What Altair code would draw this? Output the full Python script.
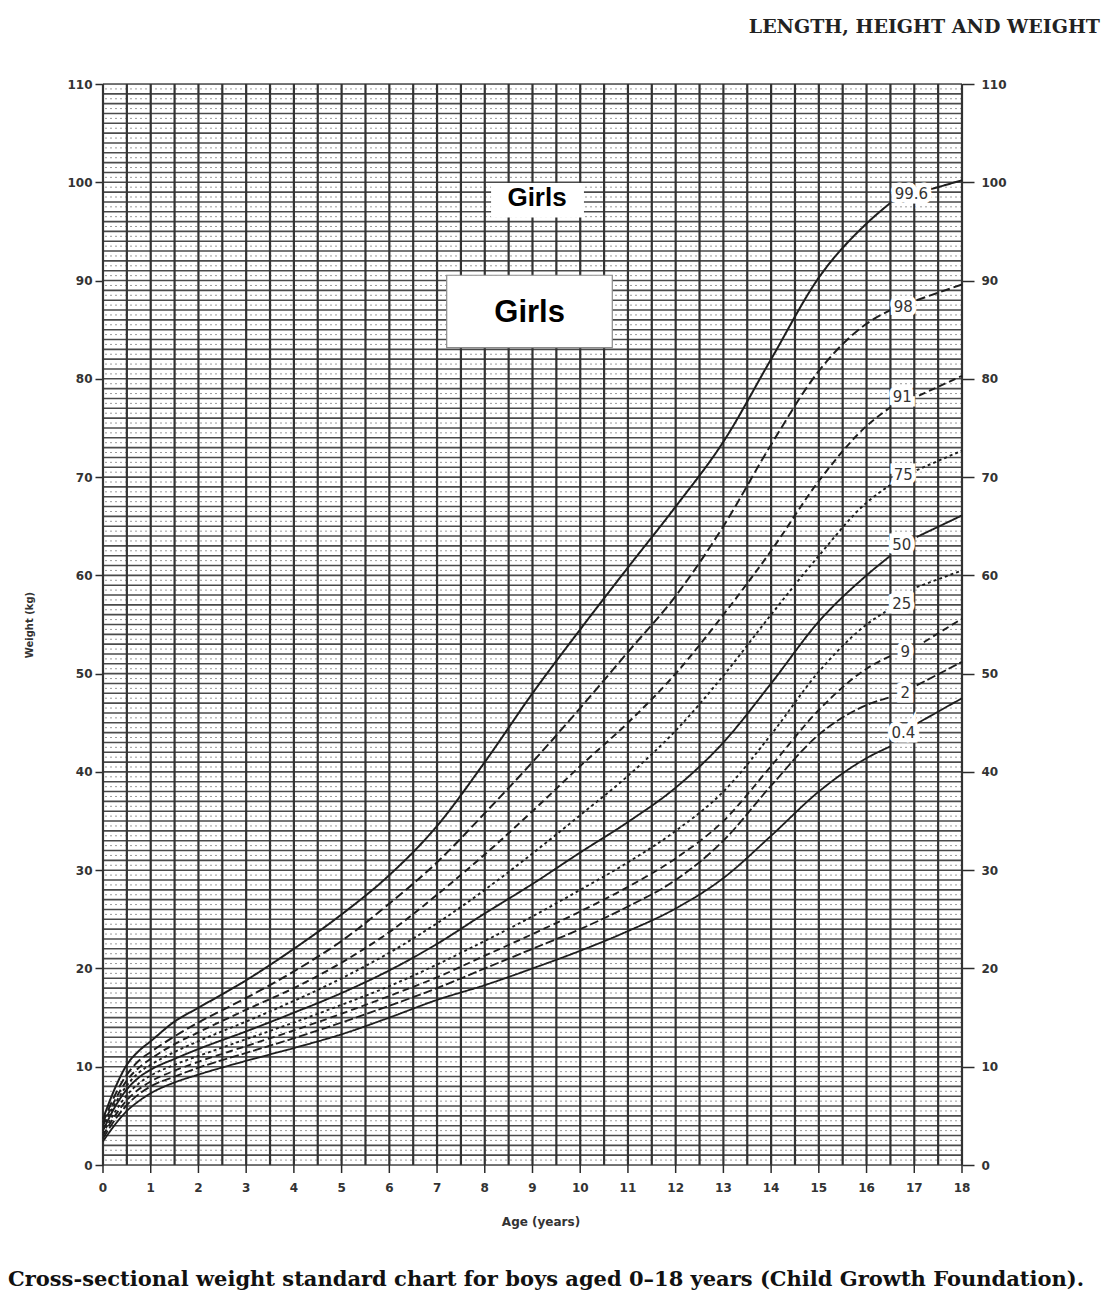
import altair as alt
import numpy as np
import pandas as pd

# ---------------- data ----------------
ages = [0, 0.25, 0.5, 0.75, 1, 1.5, 2, 3, 4, 5, 6, 7, 8, 9, 10, 11, 12, 13, 14, 15, 16, 16.5]

p99_6 = [4.7, 7.8, 10.2, 11.6, 12.6, 14.6, 16.0, 18.8, 22.0, 25.5, 29.5, 34.5, 41.0, 48.0, 54.5, 60.8, 67.0, 73.6, 82.0, 90.3, 95.8, 97.9]
p98 = [4.3, 7.1, 9.2, 10.6, 11.5, 13.1, 14.5, 17.0, 19.7, 22.8, 26.6, 30.8, 35.8, 41.0, 46.5, 52.2, 57.9, 65.0, 73.3, 80.8, 85.6, 87.0]
p91 = [4.0, 6.6, 8.6, 9.9, 10.8, 12.3, 13.5, 15.8, 18.0, 20.6, 23.7, 27.5, 31.6, 36.0, 40.6, 45.0, 50.0, 56.0, 62.5, 69.6, 75.2, 77.1]
p75 = [3.8, 6.2, 8.1, 9.4, 10.2, 11.5, 12.6, 14.6, 16.7, 19.0, 21.6, 24.6, 28.0, 31.7, 35.6, 39.6, 44.2, 49.8, 56.0, 62.0, 67.4, 69.2]
p50 = [3.5, 5.9, 7.7, 8.9, 9.7, 10.8, 11.8, 13.6, 15.5, 17.5, 19.8, 22.5, 25.6, 28.6, 31.8, 34.9, 38.4, 43.0, 49.0, 55.3, 60.0, 62.0]
p25 = [3.2, 5.4, 7.1, 8.3, 9.1, 10.2, 11.1, 12.8, 14.5, 16.3, 18.2, 20.4, 22.8, 25.3, 28.0, 30.8, 34.0, 38.0, 43.8, 50.2, 55.0, 56.6]
p9 = [3.0, 5.0, 6.6, 7.7, 8.5, 9.6, 10.5, 12.1, 13.7, 15.4, 17.2, 19.1, 21.3, 23.5, 25.8, 28.3, 31.2, 35.0, 40.6, 46.3, 50.5, 51.8]
p2 = [2.7, 4.6, 6.1, 7.2, 8.0, 9.0, 9.9, 11.4, 12.9, 14.5, 16.2, 18.0, 20.0, 22.0, 24.0, 26.3, 29.0, 33.0, 38.6, 43.8, 46.8, 47.6]
p0_4 = [2.4, 4.1, 5.5, 6.5, 7.3, 8.4, 9.2, 10.6, 11.9, 13.3, 15.0, 16.8, 18.3, 20.0, 21.8, 23.8, 26.1, 29.2, 33.5, 38.0, 41.4, 42.6]

# short pieces to the right of the centile labels
tail_ages = {
    "99.6": [17.35, 18], "98": [17.05, 18], "91": [17.1, 18], "75": [17.05, 18],
    "50": [17.05, 18], "25": [17.05, 18], "9": [17.2, 18], "2": [17.05, 18], "0.4": [17.05, 18],
}
tail_weights = {
    "99.6": [99.3, 100.2], "98": [88.0, 89.6], "91": [78.3, 80.3], "75": [70.7, 72.7],
    "50": [63.9, 66.1], "25": [58.8, 60.5], "9": [53.2, 55.6], "2": [48.8, 51.2], "0.4": [44.9, 47.5],
}

centiles = ["99.6", "98", "91", "75", "50", "25", "9", "2", "0.4"]
series = [p99_6, p98, p91, p75, p50, p25, p9, p2, p0_4]

label_age = [16.94, 16.77, 16.75, 16.77, 16.74, 16.74, 16.81, 16.81, 16.77]
label_weight = [98.8, 87.3, 78.2, 70.2, 63.1, 57.1, 52.2, 48.0, 44.0]

x_ticks = list(range(0, 19))
y_ticks = list(range(0, 111, 10))
x_title = "Age (years)"
y_title = "Weight (kg)"

header = "LENGTH, HEIGHT AND WEIGHT"
caption = "Cross-sectional weight standard chart for boys aged 0\u201318 years (Child Growth Foundation)."

# overlay boxes ("Girls")
box_x = [8.145, 7.202]
box_x2 = [10.065, 10.672]
box_y = [99.87, 90.54]
box_y2 = [96.47, 83.18]
box_text_age = [9.095, 8.94]
box_text_weight = [98.37, 86.72]

# ---------------- build tables ----------------
rows = []
for c, s in zip(centiles, series):
    for a, w in zip(ages, s):
        rows.append({"age": a, "weight": w, "centile": c, "seg": c + "_a"})
    for a, w in zip(tail_ages[c], tail_weights[c]):
        rows.append({"age": a, "weight": w, "centile": c, "seg": c + "_b"})
curves = pd.DataFrame(rows)

labels_df = pd.DataFrame({"age": label_age, "weight": label_weight, "centile": centiles})
xt_df = pd.DataFrame({"age": x_ticks, "lab": [str(v) for v in x_ticks]})

vgrid = pd.DataFrame({"age": np.arange(0, 18.01, 0.5)})
hgrid = pd.DataFrame({"weight": np.arange(0, 110.01, 1.0)})
hgrid_fine = pd.DataFrame({"weight": np.arange(0.5, 110, 1.0)})

xs = alt.Scale(domain=[0, 18], nice=False, zero=False)
ys = alt.Scale(domain=[0, 110], nice=False, zero=False)

AX_FONT = "DejaVu Sans"
INK = "#2b2b2b"
H = 1081

y_axis_left = alt.Axis(values=y_ticks, orient="left", tickSize=8, tickWidth=1.5, tickColor=INK,
                       labelPadding=3, labelFont=AX_FONT, labelFontSize=12, labelFontWeight="bold",
                       labelColor="#333", domain=False, grid=False, title=y_title,
                       titleFont=AX_FONT, titleFontSize=10, titleFontWeight="bold", titleColor="#333",
                       titlePadding=32)
y_axis_right = alt.Axis(values=y_ticks, orient="right", tickSize=12, tickWidth=1.5, tickColor=INK,
                        labelPadding=7, labelFont=AX_FONT, labelFontSize=12, labelFontWeight="bold",
                        labelColor="#333", domain=False, grid=False, title=None)

fine = alt.Chart(hgrid_fine).mark_rule(color="#9a9a9a", strokeWidth=1, strokeDash=[2, 3]).encode(
    y=alt.Y("weight:Q", scale=ys, axis=None))
hlines = alt.Chart(hgrid).mark_rule(color="#4a4a4a", strokeWidth=1.6).encode(
    y=alt.Y("weight:Q", scale=ys, axis=y_axis_right))
vlines = alt.Chart(vgrid).mark_rule(color="#333333", strokeWidth=2.2).encode(
    x=alt.X("age:Q", scale=xs, axis=None))

# bottom axis drawn with marks (ticks, labels, title)
xticks = alt.Chart(xt_df).mark_rule(color=INK, strokeWidth=1.5).encode(
    x=alt.X("age:Q", scale=xs, axis=None), y=alt.value(H), y2=alt.value(H + 8))
xlabels = alt.Chart(xt_df).mark_text(font=AX_FONT, fontSize=12, fontWeight="bold", color="#333",
                                     baseline="middle").encode(
    x=alt.X("age:Q", scale=xs, axis=None), y=alt.value(H + 23), text="lab:N")
xtitle = alt.Chart(pd.DataFrame({"t": [x_title]})).mark_text(
    font=AX_FONT, fontSize=12, fontWeight="bold", color="#333", baseline="middle").encode(
    text="t:N", x=alt.value(438), y=alt.value(H + 57))

dash_range = [[1, 0], [9, 4], [7, 4], [3, 3], [1, 0], [3, 3], [7, 4], [9, 3], [1, 0]]
width_range = [2.0, 1.8, 1.8, 1.6, 3.2, 1.6, 1.8, 1.8, 2.0]

lines = alt.Chart(curves).mark_line(interpolate="monotone", color="#1e1e1e").encode(
    x=alt.X("age:Q", scale=xs, axis=None),
    y=alt.Y("weight:Q", scale=ys, axis=y_axis_left),
    detail="seg:N",
    strokeDash=alt.StrokeDash("centile:N", scale=alt.Scale(domain=centiles, range=dash_range), legend=None),
    strokeWidth=alt.StrokeWidth("centile:N", scale=alt.Scale(domain=centiles, range=width_range), legend=None),
    order=alt.Order("age:Q"),
)

lab_bg = alt.Chart(labels_df).mark_text(font=AX_FONT, fontSize=15, fill="white", stroke="white",
                                        strokeWidth=9).encode(
    x=alt.X("age:Q", scale=xs, axis=None), y=alt.Y("weight:Q", scale=ys, axis=None), text="centile:N")
lab = alt.Chart(labels_df).mark_text(font=AX_FONT, fontSize=15, color="#333").encode(
    x=alt.X("age:Q", scale=xs, axis=None), y=alt.Y("weight:Q", scale=ys, axis=None), text="centile:N")

boxes_df = pd.DataFrame({"x": box_x, "x2": box_x2, "y": box_y, "y2": box_y2,
                         "stroke": ["white", "#8a8a8a"]})
boxes = alt.Chart(boxes_df).mark_rect(fill="white", strokeWidth=1.2).encode(
    x=alt.X("x:Q", scale=xs, axis=None), x2="x2:Q",
    y=alt.Y("y:Q", scale=ys, axis=None), y2="y2:Q",
    stroke=alt.Stroke("stroke:N", scale=None, legend=None))

btext_df = pd.DataFrame({"age": box_text_age, "weight": box_text_weight, "t": ["Girls", "Girls"],
                         "fs": [26, 31]})
btext = alt.Chart(btext_df).mark_text(font="Liberation Sans", fontWeight="bold", color="black",
                                      baseline="middle").encode(
    x=alt.X("age:Q", scale=xs, axis=None), y=alt.Y("weight:Q", scale=ys, axis=None), text="t:N",
    size=alt.Size("fs:Q", scale=None, legend=None))

head = alt.Chart(pd.DataFrame({"t": [header]})).mark_text(
    font="DejaVu Serif", fontWeight="bold", fontSize=19, color="#222", align="right",
    baseline="middle").encode(text="t:N", x=alt.value(997), y=alt.value(-57))

cap = alt.Chart(pd.DataFrame({"t": [caption]})).mark_text(
    font="DejaVu Serif", fontWeight="bold", fontSize=21, color="#111", align="left",
    baseline="alphabetic").encode(text="t:N", x=alt.value(-95), y=alt.value(1202))

chart = alt.layer(fine, hlines, vlines, lines, lab_bg, lab, boxes, btext,
                  xticks, xlabels, xtitle, head, cap).properties(
    width=859, height=H,
    autosize=alt.AutoSizeParams(type="none"),
    padding={"left": 95, "top": 76, "right": 141, "bottom": 126},
).configure_view(stroke=None).configure(background="white")

chart.save("out.html", embed_options={"renderer": "svg", "actions": False})
